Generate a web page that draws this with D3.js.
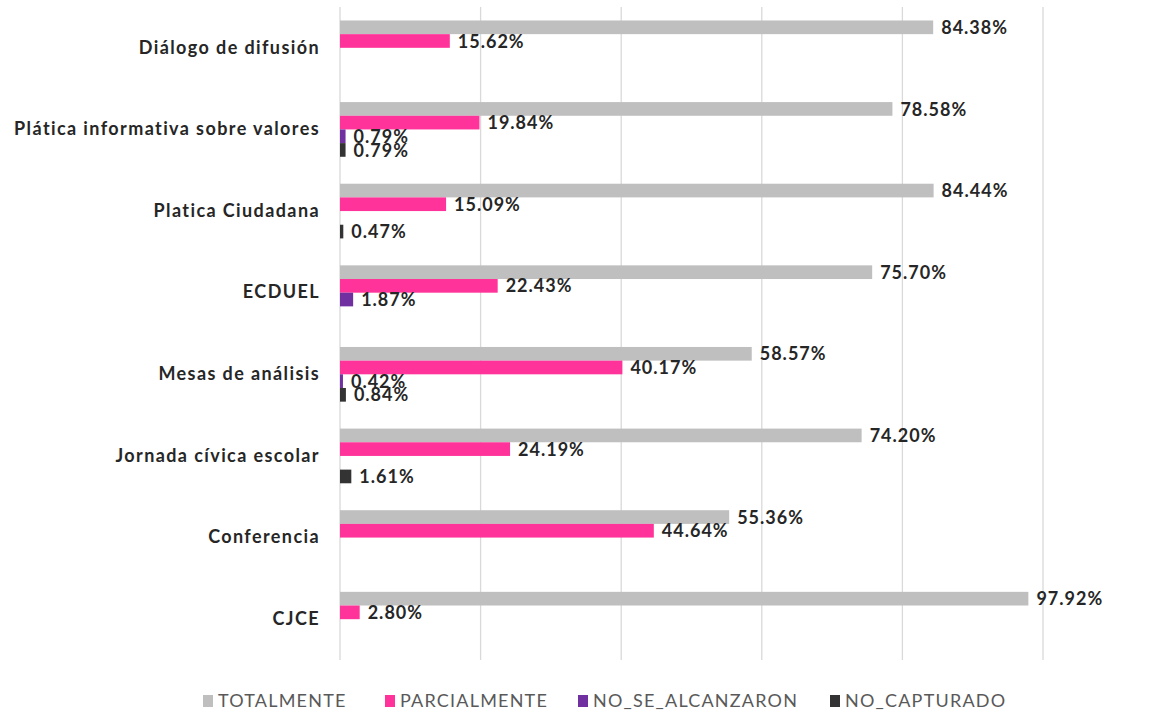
<!DOCTYPE html>
<html>
  <head>
    <meta charset="utf-8" />
    <title>Grouped Bars</title>
    <script src="https://d3js.org/d3.v7.min.js"></script>
    <style>
        body{
            margin:0;
            background:#fff;
        }
        text{
            font-family: Lato, "Open Sans", sans-serif;
        }
    </style>
  </head>
  <body>
    <svg id="chart">
        <g id="grid"></g>
        <g id="shapes"></g>
        <g id="labels"></g>
        <g id="y"></g>
        <g id="legend"></g>
    </svg>

    <script>
      var categories = ["Diálogo de difusión", "Plática informativa sobre valores", "Platica Ciudadana",
        "ECDUEL", "Mesas de análisis", "Jornada cívica escolar", "Conferencia", "CJCE"];
      var seriesNames = ["TOTALMENTE", "PARCIALMENTE", "NO_SE_ALCANZARON", "NO_CAPTURADO"];
      var totalmente   = [84.38, 78.58, 84.44, 75.70, 58.57, 74.20, 55.36, 97.92];
      var parcialmente = [15.62, 19.84, 15.09, 22.43, 40.17, 24.19, 44.64, 2.80];
      var noAlcanzaron = [null, 0.79, null, 1.87, 0.42, null, null, null];
      var noCapturado  = [null, 0.79, 0.47, null, 0.84, 1.61, null, null];
      var xTicks = [0, 20, 40, 60, 80, 100];
      var colors = ["#BFBFBF", "#FF3399", "#7030A0", "#333333"];

      var width = 1172;
      var height = 712;
      var margin = {top: 7, right: 129, bottom: 52, left: 340};
      var chartWidth = width - margin.left - margin.right;
      var chartHeight = height - margin.top - margin.bottom;

      var allSeries = [totalmente, parcialmente, noAlcanzaron, noCapturado];

      var svg = d3.select("#chart")
        .attr("width", width)
        .attr("height", height);

      var x = d3.scaleLinear()
        .domain([0, 100])
        .range([margin.left, margin.left + chartWidth]);

      var y = d3.scaleBand()
        .domain(categories)
        .range([margin.top, margin.top + chartHeight])
        .paddingInner(0.33)
        .paddingOuter(0.165);

      var inner = d3.scaleBand()
        .domain(seriesNames)
        .range([0, y.bandwidth()]);

      // gridlines
      svg.select("#grid").selectAll("line")
        .data(xTicks)
        .enter().append("line")
        .attr("x1", function(d){ return x(d); })
        .attr("x2", function(d){ return x(d); })
        .attr("y1", margin.top)
        .attr("y2", margin.top + chartHeight)
        .attr("stroke", "#D9D9D9")
        .attr("stroke-width", 1.3);

      // flatten data
      var data = [];
      categories.forEach(function(c, i){
        seriesNames.forEach(function(s, j){
          var v = allSeries[j][i];
          if (v !== null) data.push({cat: c, series: s, idx: j, value: v});
        });
      });

      svg.select("#shapes").selectAll(".bar")
        .data(data)
        .enter().append("rect")
        .attr("class", "bar")
        .attr("x", x(0))
        .attr("y", function(d){ return y(d.cat) + inner(d.series); })
        .attr("width", function(d){ return x(d.value) - x(0); })
        .attr("height", inner.bandwidth())
        .attr("fill", function(d){ return colors[d.idx]; });

      svg.select("#labels").selectAll("text")
        .data(data)
        .enter().append("text")
        .attr("x", function(d){ return x(d.value) + 8; })
        .attr("y", function(d){ return y(d.cat) + inner(d.series) + inner.bandwidth() / 2 + 2; })
        .attr("dominant-baseline", "middle")
        .attr("font-size", 18)
        .attr("font-weight", "bold")
        .attr("letter-spacing", 1)
        .attr("fill", "#262626")
        .text(function(d){ return d.value.toFixed(2) + "%"; });

      // category axis
      var yAxis = d3.axisLeft(y).tickSize(0).tickPadding(20);
      var yG = svg.select("#y")
        .attr("transform", "translate(" + x(0) + ",0)")
        .call(yAxis);
      yG.select(".domain").remove();
      yG.selectAll("text")
        .attr("font-size", 18)
        .attr("font-weight", "bold")
        .attr("font-family", "Lato, sans-serif")
        .attr("letter-spacing", 1.4)
        .attr("fill", "#262626");

      // legend
      var legendX = [203, 385, 578, 830];
      var legend = svg.select("#legend").selectAll("g")
        .data(seriesNames)
        .enter().append("g")
        .attr("transform", function(d, i){ return "translate(" + legendX[i] + "," + 701 + ")"; });
      legend.append("rect")
        .attr("x", 0)
        .attr("y", -6)
        .attr("width", 10)
        .attr("height", 12)
        .attr("fill", function(d, i){ return colors[i]; });
      legend.append("text")
        .attr("x", 15)
        .attr("y", 1)
        .attr("dominant-baseline", "middle")
        .attr("font-size", 18)
        .attr("letter-spacing", 1.2)
        .attr("fill", "#595959")
        .text(function(d){ return d; });
    </script>
  </body>
</html>
